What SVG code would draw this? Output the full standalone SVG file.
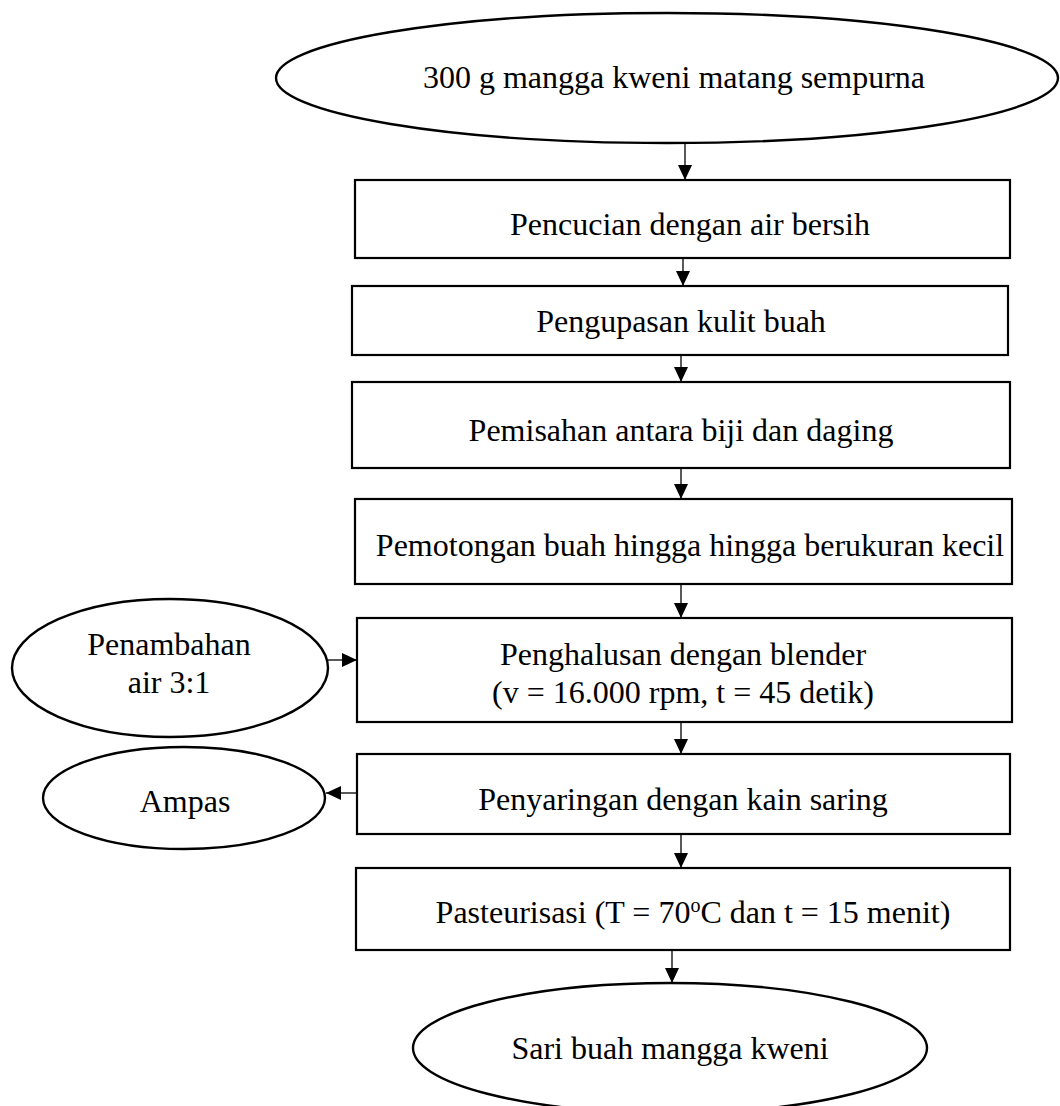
<svg xmlns="http://www.w3.org/2000/svg" width="1060" height="1106" viewBox="0 0 1060 1106">
<style>
.box{fill:#fff;stroke:#000;stroke-width:2.2}
.ell{fill:#fff;stroke:#000;stroke-width:2.4}
.t{font-family:"Liberation Serif","Times New Roman",serif;font-size:32px;fill:#000;text-anchor:middle}
.c{stroke:#000;stroke-width:1.3;fill:none;marker-end:url(#ah)}
</style>
<defs>
<marker id="ah" markerUnits="userSpaceOnUse" markerWidth="15" markerHeight="14" refX="15" refY="7" orient="auto">
<path d="M0,0 L15,7 L0,14 z" fill="#000"/>
</marker>
</defs>
<rect width="1060" height="1106" fill="#fff"/>
<g id="connectors">
<line class="c" x1="685" y1="143" x2="685" y2="180"/>
<line class="c" x1="683" y1="258" x2="683" y2="286"/>
<line class="c" x1="681" y1="355" x2="681" y2="382"/>
<line class="c" x1="681" y1="468" x2="681" y2="499"/>
<line class="c" x1="681" y1="584" x2="681" y2="618"/>
<line class="c" x1="328" y1="660" x2="357" y2="660"/>
<line class="c" x1="681" y1="722" x2="681" y2="754"/>
<line class="c" x1="357" y1="793" x2="326" y2="793"/>
<line class="c" x1="681" y1="834" x2="681" y2="868"/>
<line class="c" x1="672" y1="950" x2="672" y2="983"/>
</g>
<g id="start">
<ellipse class="ell" cx="667" cy="78" rx="391" ry="65"/>
<text class="t" x="674" y="88">300 g mangga kweni matang sempurna</text>
</g>
<g id="pencucian">
<rect class="box" x="355" y="180" width="655" height="78"/>
<text class="t" x="690" y="235">Pencucian dengan air bersih</text>
</g>
<g id="pengupasan">
<rect class="box" x="352" y="286" width="656" height="69"/>
<text class="t" x="681" y="332">Pengupasan kulit buah</text>
</g>
<g id="pemisahan">
<rect class="box" x="352" y="382" width="658" height="86"/>
<text class="t" x="681" y="441">Pemisahan antara biji dan daging</text>
</g>
<g id="pemotongan">
<rect class="box" x="355" y="499" width="657" height="85"/>
<text class="t" x="690" y="556">Pemotongan buah hingga hingga berukuran kecil</text>
</g>
<g id="penghalusan">
<rect class="box" x="357" y="618" width="655" height="104"/>
<text class="t" x="683" y="665">Penghalusan dengan blender</text>
<text class="t" x="683" y="703">(v = 16.000 rpm, t = 45 detik)</text>
</g>
<g id="penambahan">
<ellipse class="ell" cx="170" cy="668" rx="158" ry="69"/>
<text class="t" x="169" y="655">Penambahan</text>
<text class="t" x="169" y="693">air 3:1</text>
</g>
<g id="penyaringan">
<rect class="box" x="357" y="754" width="653" height="80"/>
<text class="t" x="683" y="810">Penyaringan dengan kain saring</text>
</g>
<g id="ampas">
<ellipse class="ell" cx="184" cy="798" rx="141" ry="51"/>
<text class="t" x="185" y="812">Ampas</text>
</g>
<g id="pasteurisasi">
<rect class="box" x="356" y="868" width="654" height="82"/>
<text class="t" x="693" y="923">Pasteurisasi (T = 70<tspan font-size="20" dy="-11">o</tspan><tspan dy="11">C dan t = 15 menit)</tspan></text>
</g>
<g id="end">
<ellipse class="ell" cx="670" cy="1048" rx="257" ry="65"/>
<text class="t" x="670" y="1059">Sari buah mangga kweni</text>
</g>
</svg>
